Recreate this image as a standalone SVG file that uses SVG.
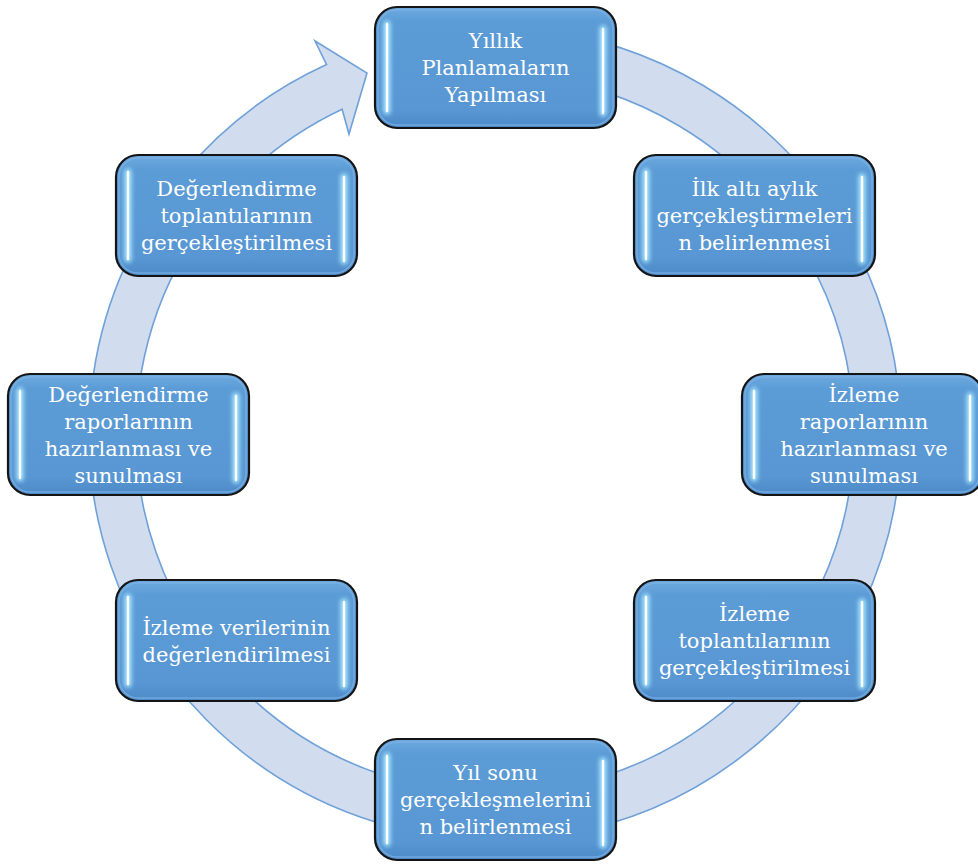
<svg xmlns="http://www.w3.org/2000/svg" width="978" height="864" viewBox="0 0 978 864">
<defs>
<linearGradient id="nodeFill" x1="0" y1="0" x2="0" y2="1">
<stop offset="0" stop-color="#6eaae0"/>
<stop offset="0.12" stop-color="#5c9cd6"/>
<stop offset="0.85" stop-color="#5897d3"/>
<stop offset="1" stop-color="#4c89c8"/>
</linearGradient>
<filter id="glow" filterUnits="userSpaceOnUse" x="-20" y="-20" width="290" height="170">
<feGaussianBlur stdDeviation="2"/>
</filter>
<style>
.ring{fill:#d1ddef;stroke:#6fa1d8;stroke-width:1.6;stroke-linejoin:miter}
.box{fill:url(#nodeFill);stroke:#141414;stroke-width:2.2}
.inner{fill:none;stroke:#7fb4e6;stroke-width:1.5;opacity:0.7}
.glow{stroke:#a8e6ff;stroke-width:7;stroke-linecap:round;filter:url(#glow)}
.hl{stroke:#ffffff;stroke-width:2.4;stroke-linecap:round}
.lbl{font-family:"DejaVu Serif","Liberation Serif",serif;font-size:21px;fill:#ffffff;text-anchor:middle}
</style>
</defs>
<g id="connectors">
<path class="ring" d="M530.4,29.6 A406,406 0 1,1 326.6,64.6 L315,41 L367,73 L349,134 L342.1,109.2 A359,359 0 1,0 526.3,76.4 Z"/>
</g>
<g id="node1" transform="translate(375,7)">
<rect class="box" x="0" y="0" width="241" height="121" rx="22"/>
<rect class="inner" x="3" y="3" width="235" height="115" rx="19"/>
<line class="glow" x1="12" y1="17" x2="12" y2="104"/><line class="hl" x1="12" y1="17" x2="12" y2="104"/>
<line class="glow" x1="228" y1="22" x2="228" y2="106"/><line class="hl" x1="228" y1="22" x2="228" y2="106"/>
<text class="lbl"><tspan x="120.5" y="41">Yıllık</tspan><tspan x="120.5" y="68">Planlamaların</tspan><tspan x="120.5" y="95">Yapılması</tspan></text>
</g>
<g id="node2" transform="translate(634,155)">
<rect class="box" x="0" y="0" width="241" height="121" rx="22"/>
<rect class="inner" x="3" y="3" width="235" height="115" rx="19"/>
<line class="glow" x1="12" y1="17" x2="12" y2="104"/><line class="hl" x1="12" y1="17" x2="12" y2="104"/>
<line class="glow" x1="228" y1="22" x2="228" y2="106"/><line class="hl" x1="228" y1="22" x2="228" y2="106"/>
<text class="lbl"><tspan x="120.5" y="41">İlk altı aylık</tspan><tspan x="120.5" y="68">gerçekleştirmeleri</tspan><tspan x="120.5" y="95">n belirlenmesi</tspan></text>
</g>
<g id="node3" transform="translate(742,374)">
<rect class="box" x="0" y="0" width="241" height="121" rx="22"/>
<rect class="inner" x="3" y="3" width="235" height="115" rx="19"/>
<line class="glow" x1="12" y1="17" x2="12" y2="104"/><line class="hl" x1="12" y1="17" x2="12" y2="104"/>
<line class="glow" x1="228" y1="22" x2="228" y2="106"/><line class="hl" x1="228" y1="22" x2="228" y2="106"/>
<text class="lbl"><tspan x="122" y="27.5">İzleme</tspan><tspan x="122" y="54.5">raporlarının</tspan><tspan x="122" y="81.5">hazırlanması ve</tspan><tspan x="122" y="108.5">sunulması</tspan></text>
</g>
<g id="node4" transform="translate(634,580)">
<rect class="box" x="0" y="0" width="241" height="121" rx="22"/>
<rect class="inner" x="3" y="3" width="235" height="115" rx="19"/>
<line class="glow" x1="12" y1="17" x2="12" y2="104"/><line class="hl" x1="12" y1="17" x2="12" y2="104"/>
<line class="glow" x1="228" y1="22" x2="228" y2="106"/><line class="hl" x1="228" y1="22" x2="228" y2="106"/>
<text class="lbl"><tspan x="120.5" y="41">İzleme</tspan><tspan x="120.5" y="68">toplantılarının</tspan><tspan x="120.5" y="95">gerçekleştirilmesi</tspan></text>
</g>
<g id="node5" transform="translate(375,739)">
<rect class="box" x="0" y="0" width="241" height="121" rx="22"/>
<rect class="inner" x="3" y="3" width="235" height="115" rx="19"/>
<line class="glow" x1="12" y1="17" x2="12" y2="104"/><line class="hl" x1="12" y1="17" x2="12" y2="104"/>
<line class="glow" x1="228" y1="22" x2="228" y2="106"/><line class="hl" x1="228" y1="22" x2="228" y2="106"/>
<text class="lbl"><tspan x="120.5" y="41">Yıl sonu</tspan><tspan x="120.5" y="68">gerçekleşmelerini</tspan><tspan x="120.5" y="95">n belirlenmesi</tspan></text>
</g>
<g id="node6" transform="translate(116,580)">
<rect class="box" x="0" y="0" width="241" height="121" rx="22"/>
<rect class="inner" x="3" y="3" width="235" height="115" rx="19"/>
<line class="glow" x1="12" y1="17" x2="12" y2="104"/><line class="hl" x1="12" y1="17" x2="12" y2="104"/>
<line class="glow" x1="228" y1="22" x2="228" y2="106"/><line class="hl" x1="228" y1="22" x2="228" y2="106"/>
<text class="lbl"><tspan x="120.5" y="54.5">İzleme verilerinin</tspan><tspan x="120.5" y="81.5">değerlendirilmesi</tspan></text>
</g>
<g id="node7" transform="translate(8,374)">
<rect class="box" x="0" y="0" width="241" height="121" rx="22"/>
<rect class="inner" x="3" y="3" width="235" height="115" rx="19"/>
<line class="glow" x1="12" y1="17" x2="12" y2="104"/><line class="hl" x1="12" y1="17" x2="12" y2="104"/>
<line class="glow" x1="228" y1="22" x2="228" y2="106"/><line class="hl" x1="228" y1="22" x2="228" y2="106"/>
<text class="lbl"><tspan x="120.5" y="27.5">Değerlendirme</tspan><tspan x="120.5" y="54.5">raporlarının</tspan><tspan x="120.5" y="81.5">hazırlanması ve</tspan><tspan x="120.5" y="108.5">sunulması</tspan></text>
</g>
<g id="node8" transform="translate(116,155)">
<rect class="box" x="0" y="0" width="241" height="121" rx="22"/>
<rect class="inner" x="3" y="3" width="235" height="115" rx="19"/>
<line class="glow" x1="12" y1="17" x2="12" y2="104"/><line class="hl" x1="12" y1="17" x2="12" y2="104"/>
<line class="glow" x1="228" y1="22" x2="228" y2="106"/><line class="hl" x1="228" y1="22" x2="228" y2="106"/>
<text class="lbl"><tspan x="120.5" y="41">Değerlendirme</tspan><tspan x="120.5" y="68">toplantılarının</tspan><tspan x="120.5" y="95">gerçekleştirilmesi</tspan></text>
</g>
</svg>
